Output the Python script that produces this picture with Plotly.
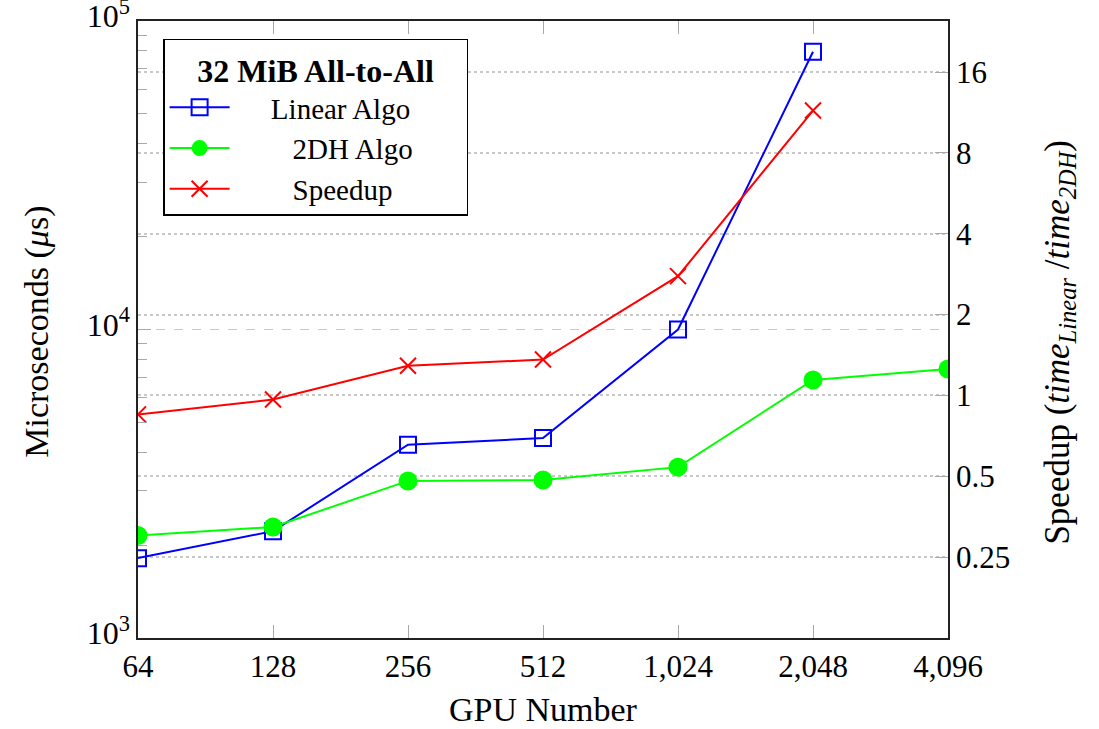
import plotly.graph_objects as go

# GPU counts on the x axis
gpus = [64, 128, 256, 512, 1024, 2048, 4096]
gpu_labels = ["64", "128", "256", "512", "1,024", "2,048", "4,096"]

# All-to-All latency (microseconds) for 32 MiB messages
linear_gpus = [64, 128, 256, 512, 1024, 2048]
linear_us = [1815, 2220, 4230, 4450, 10000, 79500]

dh_gpus = [64, 128, 256, 512, 1024, 2048, 4096]
dh_us = [2150, 2290, 3230, 3250, 3580, 6860, 7450]

# Speedup = time_Linear / time_2DH
speedup_gpus = [64, 128, 256, 512, 1024, 2048]
speedup = [0.85, 0.965, 1.29, 1.36, 2.78, 11.5]

speedup_ticks = [0.25, 0.5, 1, 2, 4, 8, 16]
speedup_ticktext = ["0.25", "0.5", "1", "2", "4", "8", "16"]

FONT = "Liberation Serif"
GRID = "#c8c8c8"
TICK = "#a8a8a8"
NB = "\u00a0"


def f(size):
    return dict(family=FONT, size=size, color="black")


fig = go.Figure()

# legend labels are padded so they sit centred in the legend's text column
fig.add_trace(go.Scatter(
    x=linear_gpus, y=linear_us, name=NB * 5 + "Linear Algo" + NB * 7,
    mode="lines+markers",
    line=dict(color="#0000ff", width=2),
    marker=dict(symbol="square-open", size=16, color="#0000ff",
                line=dict(width=2, color="#0000ff")),
    yaxis="y",
))
fig.add_trace(go.Scatter(
    x=dh_gpus, y=dh_us, name=NB * 8 + "2DH Algo",
    mode="lines+markers",
    line=dict(color="#00ff00", width=2),
    marker=dict(symbol="circle", size=19, color="#00ff00"),
    yaxis="y",
))
fig.add_trace(go.Scatter(
    x=speedup_gpus, y=speedup, name=NB * 8 + "Speedup",
    mode="lines+markers",
    line=dict(color="#ff0000", width=2),
    marker=dict(symbol="x-thin", size=16, color="#ff0000",
                line=dict(width=2, color="#ff0000")),
    yaxis="y2",
))

minor_vals = [k * 10 ** e for e in (3, 4) for k in range(2, 10)]

# axis titles, placed in paper coordinates around the plot frame
titles = [
    dict(text="GPU Number", x=0.501, y=-0.1151, textangle=0, size=34),
    dict(text="Microseconds (<i>μ</i>s)", x=-0.125, y=0.496, textangle=-90, size=34),
    dict(text="Speedup (<i>time</i><sub><i>Linear</i></sub> /<i>time</i><sub><i>2DH</i></sub>)",
         x=1.138, y=0.48, textangle=-90, size=35),
]

fig.update_layout(
    template="none",
    width=1099, height=729,
    margin=dict(l=138, r=151, t=21, b=91, autoexpand=False),
    paper_bgcolor="white", plot_bgcolor="white",
    font=f(31),
    showlegend=True,
    legend=dict(
        x=0.031, y=0.971, xanchor="left", yanchor="top",
        bordercolor="black", borderwidth=1.5, bgcolor="white",
        font=f(29),
        title=dict(text="<b>32 MiB All-to-All</b>", side="top center",
                   font=f(32)),
        itemwidth=60, tracegroupgap=0,
    ),
    xaxis=dict(
        type="log",
        range=[1.80618, 3.61236],
        tickvals=gpus, ticktext=gpu_labels,
        ticks="inside", ticklen=13, tickcolor=TICK, tickwidth=1.2,
        showline=True, linecolor="#222222", linewidth=1.5, mirror="ticks",
        showgrid=False, zeroline=False, automargin=False,
        tickfont=f(31),
    ),
    yaxis=dict(
        type="log",
        range=[3, 5.0001],
        tickvals=[1e3, 1e4, 1e5],
        ticktext=["10<sup>3</sup>", "10<sup>4</sup>", "10<sup>5</sup>"],
        ticklabeloverflow="allow",
        ticklabelshift=-5,
        ticks="inside", ticklen=13, tickcolor=TICK, tickwidth=1.2,
        minor=dict(tickvals=minor_vals, ticks="inside", ticklen=9,
                   tickcolor=TICK, tickwidth=1.2, showgrid=False),
        showline=True, linecolor="#222222", linewidth=1.5,
        showgrid=True, gridcolor=GRID, griddash="dash", gridwidth=1.2,
        zeroline=False, automargin=False,
        tickfont=f(32),
    ),
    yaxis2=dict(
        type="log",
        overlaying="y", side="right",
        range=[-0.9031, 1.394],
        tickvals=speedup_ticks, ticktext=speedup_ticktext,
        ticks="inside", ticklen=13, tickcolor=TICK, tickwidth=1.2,
        showline=True, linecolor="#222222", linewidth=1.5,
        showgrid=True, gridcolor=GRID, griddash="dot", gridwidth=1.5,
        zeroline=False, automargin=False,
        tickfont=f(31),
    ),
    annotations=[
        dict(text=t["text"], x=t["x"], y=t["y"], xref="paper", yref="paper",
             xanchor="center", yanchor="middle", showarrow=False,
             textangle=t["textangle"], font=f(t["size"]))
        for t in titles
    ],
)

fig.write_html("out.html")
